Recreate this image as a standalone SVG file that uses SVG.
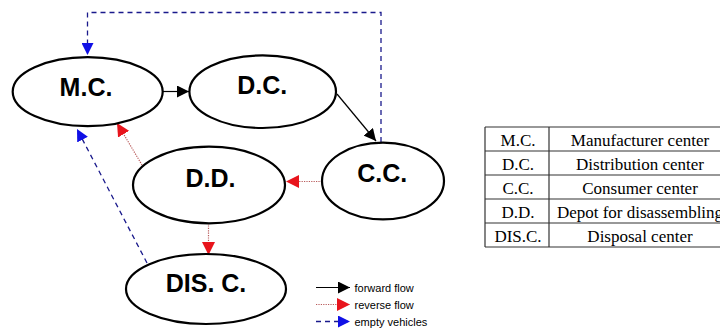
<svg xmlns="http://www.w3.org/2000/svg" width="720" height="331" viewBox="0 0 720 331">
  <style>
    .node ellipse { fill: #fff; stroke: #000; stroke-width: 2.2; }
    .node text { font-family: "Liberation Sans", Arial, sans-serif; font-weight: bold; font-size: 25px; text-anchor: middle; fill: #000; }
    .fwd { stroke: #000; stroke-width: 1.2; fill: none; }
    .rev { stroke: #b85a5a; stroke-width: 1.2; stroke-dasharray: 1.2 1.2; fill: none; }
    .emp { stroke: #1a1a8c; stroke-width: 1.3; stroke-dasharray: 5 4; fill: none; }
    .legend text { font-family: "Liberation Sans", Arial, sans-serif; font-size: 11px; fill: #000; }
    .tbl line { stroke: #333; stroke-width: 1.2; fill: none; }
    .tbl text { font-family: "Liberation Serif", "Times New Roman", serif; font-size: 17px; text-anchor: middle; fill: #000; }
  </style>
  <defs>
    <marker id="hFwd" viewBox="0 0 12 12" refX="12" refY="6" markerWidth="12" markerHeight="12" markerUnits="userSpaceOnUse" orient="auto">
      <path d="M0,0 L12,6 L0,12 Z" fill="#000"/>
    </marker>
    <marker id="hRev" viewBox="0 0 12 12" refX="12" refY="6" markerWidth="13" markerHeight="13" markerUnits="userSpaceOnUse" orient="auto">
      <path d="M0,0 L12,6 L0,12 Z" fill="#e8141c"/>
    </marker>
    <marker id="hEmp" viewBox="0 0 12 12" refX="12" refY="6" markerWidth="12" markerHeight="12" markerUnits="userSpaceOnUse" orient="auto">
      <path d="M0,0 L12,6 L0,12 Z" fill="#1010e6"/>
    </marker>
  </defs>

  <rect width="720" height="331" fill="#fff"/>

  <!-- connectors -->
  <g id="connectors">
    <line class="fwd" x1="163" y1="91.5" x2="189" y2="91.5" marker-end="url(#hFwd)"/>
    <line class="fwd" x1="337" y1="94" x2="376" y2="141" marker-end="url(#hFwd)"/>
    <path class="emp" d="M381,142 V12.5 H87.5 V55" marker-end="url(#hEmp)"/>
    <line class="emp" x1="147" y1="263" x2="77" y2="129" marker-end="url(#hEmp)"/>
    <line class="rev" x1="142" y1="165" x2="117" y2="123" marker-end="url(#hRev)"/>
    <line class="rev" x1="322" y1="181.5" x2="286" y2="181.5" marker-end="url(#hRev)"/>
    <line class="rev" x1="208.5" y1="223" x2="208.5" y2="255" marker-end="url(#hRev)"/>
  </g>

  <!-- nodes -->
  <g id="mc" class="node">
    <ellipse cx="87.7" cy="91.7" rx="75" ry="34.5"/>
    <text x="86" y="95.5">M.C.</text>
  </g>
  <g id="dc" class="node">
    <ellipse cx="262.7" cy="91.7" rx="73.3" ry="36.3"/>
    <text x="262.3" y="94">D.C.</text>
  </g>
  <g id="cc" class="node">
    <ellipse cx="383" cy="181" rx="61" ry="38.3"/>
    <text x="382.3" y="181.5">C.C.</text>
  </g>
  <g id="dd" class="node">
    <ellipse cx="209" cy="185" rx="76" ry="38.3"/>
    <text x="210.5" y="186.7">D.D.</text>
  </g>
  <g id="disc" class="node">
    <ellipse cx="206" cy="289" rx="80" ry="35"/>
    <text x="206" y="291.5">DIS. C.</text>
  </g>

  <!-- legend -->
  <g id="legend" class="legend">
    <line class="fwd" x1="316" y1="287.5" x2="350" y2="287.5" marker-end="url(#hFwd)"/>
    <text x="354.5" y="291.5">forward flow</text>
    <line class="rev" x1="316" y1="304.5" x2="350" y2="304.5" marker-end="url(#hRev)"/>
    <text x="354.5" y="308.5">reverse flow</text>
    <line class="emp" x1="316" y1="321.5" x2="350" y2="321.5" marker-end="url(#hEmp)"/>
    <text x="354.5" y="325.5">empty vehicles</text>
  </g>

  <!-- abbreviation table -->
  <g id="table" class="tbl">
    <line x1="485" y1="127" x2="722" y2="127"/>
    <line x1="485" y1="151" x2="722" y2="151"/>
    <line x1="485" y1="175" x2="722" y2="175"/>
    <line x1="485" y1="199" x2="722" y2="199"/>
    <line x1="485" y1="223" x2="722" y2="223"/>
    <line x1="485" y1="247" x2="722" y2="247"/>
    <line x1="485" y1="127" x2="485" y2="247"/>
    <line x1="549" y1="127" x2="549" y2="247"/>
    <text x="518" y="146">M.C.</text>
    <text x="640" y="146">Manufacturer center</text>
    <text x="518" y="170">D.C.</text>
    <text x="640" y="170">Distribution center</text>
    <text x="518" y="194">C.C.</text>
    <text x="640" y="194">Consumer center</text>
    <text x="518" y="218">D.D.</text>
    <text x="640" y="218">Depot for disassembling</text>
    <text x="518" y="242">DIS.C.</text>
    <text x="640" y="242">Disposal center</text>
  </g>
</svg>
